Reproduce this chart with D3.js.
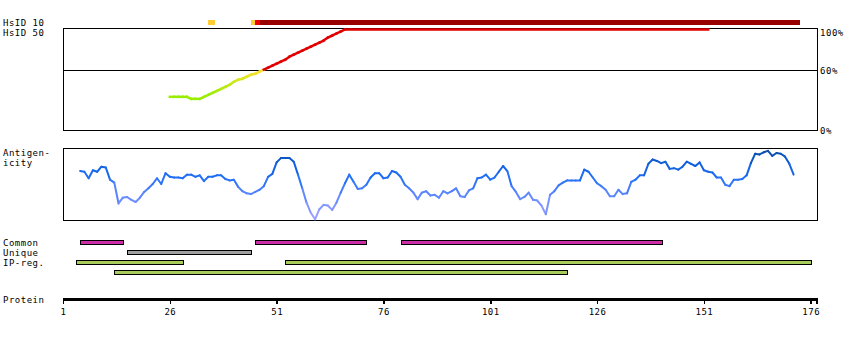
<!DOCTYPE html>
<html>
<head>
<meta charset="utf-8">
<script src="https://cdn.jsdelivr.net/npm/d3@7"></script>
<style>
  body { margin: 0; background: #fff; }
  text { font-family: "DejaVu Sans Mono", monospace; font-size: 9px; letter-spacing: 0.5px; fill: #000; }
</style>
</head>
<body>
<div id="chart"></div>
<script>
// ---- data ----
const proteinLength = 177;
const proteinTicks = [1, 26, 51, 76, 101, 126, 151, 176];
const identityTicks = [100, 60, 0];

// [residue, % identity]
const identityPoints = [
  [26, 33], [27, 33], [28, 33], [29, 33], [30, 33], [31, 31], [32, 31], [33, 31],
  [34, 33], [35, 35], [36, 37], [37, 39], [38, 41], [39, 43], [40, 45], [41, 48],
  [42, 50], [43, 51], [44, 53], [45, 55], [46, 56], [47, 58], [48, 60], [49, 62],
  [50, 64], [51, 66], [52, 68], [53, 70], [54, 73], [55, 75], [56, 77], [57, 79],
  [58, 81], [59, 83], [60, 85], [61, 87], [62, 89], [63, 92], [64, 94], [65, 96],
  [66, 98], [67, 100], [152, 100]
];

// HsID 10 track: [start, end, level]
const hsid10Segments = [
  [35, 36.5, 'mid'], [45, 46, 'mid'], [46, 47, 'high'], [47, 173.5, 'top']
];

// antigenicity, one value per residue starting at residue 5
const antigenStart = 5;
const antigenicity = [
  0.68, 0.67, 0.58, 0.69, 0.67, 0.74, 0.73, 0.56, 0.52, 0.23,
  0.31, 0.32, 0.28, 0.25, 0.31, 0.39, 0.44, 0.50, 0.58, 0.50,
  0.65, 0.60, 0.59, 0.59, 0.58, 0.63, 0.63, 0.60, 0.62, 0.54,
  0.60, 0.60, 0.62, 0.62, 0.57, 0.55, 0.56, 0.46, 0.40, 0.37,
  0.36, 0.39, 0.42, 0.47, 0.60, 0.64, 0.80, 0.86, 0.86, 0.86,
  0.81, 0.63, 0.44, 0.24, 0.10, 0.01, 0.15, 0.21, 0.20, 0.14,
  0.24, 0.38, 0.51, 0.63, 0.53, 0.43, 0.44, 0.49, 0.59, 0.65,
  0.65, 0.58, 0.59, 0.68, 0.66, 0.60, 0.49, 0.44, 0.38, 0.29,
  0.38, 0.40, 0.34, 0.35, 0.31, 0.40, 0.37, 0.40, 0.44, 0.33,
  0.32, 0.41, 0.44, 0.58, 0.59, 0.63, 0.56, 0.59, 0.67, 0.75,
  0.68, 0.47, 0.39, 0.29, 0.32, 0.38, 0.28, 0.27, 0.20, 0.08,
  0.35, 0.40, 0.48, 0.52, 0.55, 0.55, 0.55, 0.55, 0.70, 0.67,
  0.59, 0.51, 0.47, 0.42, 0.33, 0.33, 0.42, 0.36, 0.37, 0.53,
  0.56, 0.62, 0.62, 0.78, 0.84, 0.82, 0.79, 0.81, 0.71, 0.72,
  0.70, 0.74, 0.81, 0.78, 0.75, 0.80, 0.69, 0.67, 0.66, 0.59,
  0.59, 0.49, 0.47, 0.56, 0.56, 0.57, 0.62, 0.79, 0.92, 0.91,
  0.94, 0.96, 0.89, 0.93, 0.92, 0.88, 0.78, 0.63
];

// feature regions: [start, end, lane]
const commonRegions = [[5, 15, 0], [46, 72, 0], [80, 141, 0]];
const uniqueRegions = [[16, 45, 1]];
const ipRegions = [[4, 29, 2], [53, 176, 2], [13, 119, 3]];
const featureLabels = ['Common', 'Unique', 'IP-reg.'];

// ---- chart ----
const width = 850, height = 340;
const svg = d3.select('#chart').append('svg')
  .attr('width', width)
  .attr('height', height)
  .attr('shape-rendering', 'crispEdges');

const x = d3.scaleLinear().domain([1, 176]).range([63, 810.7]);
const xLeft = x(1), xRight = x(proteinLength + 0.5);

// Identity panel
const idTop = 28, idBottom = 130;
const yId = d3.scaleLinear().domain([0, 100]).range([idBottom, idTop + 1.5]);

svg.append('text').attr('x', 3).attr('y', 26).text('HsID 10');
svg.append('text').attr('x', 3).attr('y', 36).text('HsID 50');

const hsidColor = { mid: '#ffcc33', high: '#ee0000', top: '#990000' };
svg.append('g').selectAll('rect')
  .data(hsid10Segments)
  .enter().append('rect')
  .attr('x', d => x(d[0]))
  .attr('width', d => x(d[1]) - x(d[0]))
  .attr('y', 20)
  .attr('height', 5)
  .attr('fill', d => hsidColor[d[2]]);

svg.append('rect')
  .attr('x', xLeft + 0.5).attr('y', idTop + 0.5)
  .attr('width', xRight - xLeft).attr('height', idBottom - idTop)
  .attr('fill', 'none').attr('stroke', '#000');

svg.append('line')
  .attr('x1', xLeft).attr('x2', xRight)
  .attr('y1', Math.round(yId(60)) + 0.5).attr('y2', Math.round(yId(60)) + 0.5)
  .attr('stroke', '#000');

svg.append('g').selectAll('text')
  .data(identityTicks)
  .enter().append('text')
  .attr('x', xRight + 3)
  .attr('y', d => Math.max(yId(d) + 4, idTop + 8))
  .text(d => d + '%');

const idColor = d3.scaleLinear().domain([35, 59]).range(['#99ee00', '#ffe030']).clamp(true);
const idSegs = d3.pairs(identityPoints);
svg.append('g').selectAll('line')
  .data(idSegs)
  .enter().append('line')
  .attr('x1', d => x(d[0][0])).attr('y1', d => yId(d[0][1]))
  .attr('x2', d => x(d[1][0])).attr('y2', d => yId(d[1][1]))
  .attr('stroke', d => d[0][1] >= 60 ? '#e00000' : idColor(d[0][1]))
  .attr('stroke-width', 2.5)
  .attr('stroke-linecap', 'square')
  .attr('shape-rendering', 'auto');

// Antigenicity panel
const agTop = 148, agBottom = 220;
const yAg = d3.scaleLinear().domain([0, 1]).range([agBottom, agTop]);

svg.append('text').attr('x', 3).attr('y', 156).text('Antigen-');
svg.append('text').attr('x', 3).attr('y', 166).text('icity');

svg.append('rect')
  .attr('x', xLeft + 0.5).attr('y', agTop + 0.5)
  .attr('width', xRight - xLeft).attr('height', agBottom - agTop)
  .attr('fill', 'none').attr('stroke', '#000');

const agColor = d3.scaleLinear()
  .domain([0, 0.3, 0.6, 0.8, 1])
  .range(['#aaa4ff', '#6a8cff', '#1f6ef5', '#0d5cd8', '#0a4a98']);
const agPoints = antigenicity.map((v, i) => [antigenStart + i, v]);
svg.append('g').selectAll('line')
  .data(d3.pairs(agPoints))
  .enter().append('line')
  .attr('x1', d => x(d[0][0])).attr('y1', d => yAg(d[0][1]))
  .attr('x2', d => x(d[1][0])).attr('y2', d => yAg(d[1][1]))
  .attr('stroke', d => agColor((d[0][1] + d[1][1]) / 2))
  .attr('stroke-width', 2)
  .attr('stroke-linecap', 'round')
  .attr('shape-rendering', 'auto');

// Feature tracks
const laneY = d3.scaleLinear().domain([0, 1]).range([240, 250]);
svg.append('g').selectAll('text')
  .data(featureLabels)
  .enter().append('text')
  .attr('x', 3)
  .attr('y', (d, i) => laneY(i) + 6)
  .text(d => d);

const features = [
  ...commonRegions.map(d => ({ r: d, fill: '#cc2ca8' })),
  ...uniqueRegions.map(d => ({ r: d, fill: '#a0a0a0' })),
  ...ipRegions.map(d => ({ r: d, fill: '#a8cc5c' }))
];
svg.append('g').selectAll('rect')
  .data(features)
  .enter().append('rect')
  .attr('x', d => Math.round(x(d.r[0])) + 0.5)
  .attr('y', d => laneY(d.r[2]) + 0.5)
  .attr('width', d => Math.round(x(d.r[1]) - x(d.r[0])))
  .attr('height', 4)
  .attr('fill', d => d.fill)
  .attr('stroke', '#000');

// Protein axis
const axisY = 299;
svg.append('text').attr('x', 3).attr('y', 303).text('Protein');
svg.append('line')
  .attr('x1', xLeft).attr('x2', xRight + 1)
  .attr('y1', axisY).attr('y2', axisY)
  .attr('stroke', '#000').attr('stroke-width', 3);

const axis = d3.axisBottom(x).tickValues(proteinTicks).tickSize(5).tickPadding(5).tickSizeOuter(0);
svg.append('g')
  .attr('transform', `translate(0,${axisY})`)
  .call(axis)
  .call(g => g.select('.domain').remove())
  .call(g => g.selectAll('line').attr('stroke', '#000').attr('stroke-width', 1.5))
  .call(g => g.selectAll('text')
    .style('font-family', '"DejaVu Sans Mono", monospace')
    .style('font-size', '9px')
    .attr('fill', '#000'));

svg.append('line')
  .attr('x1', xRight).attr('x2', xRight)
  .attr('y1', axisY).attr('y2', axisY + 5)
  .attr('stroke', '#000').attr('stroke-width', 1.5);
</script>
</body>
</html>
